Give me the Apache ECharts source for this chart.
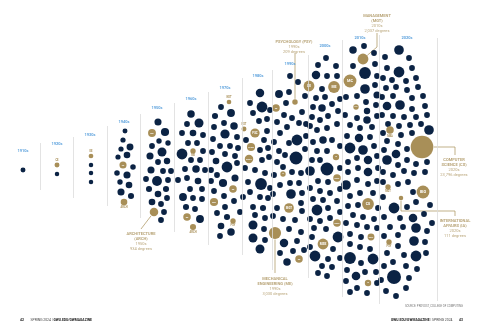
<!DOCTYPE html>
<html><head><meta charset="utf-8">
<script src="https://cdn.jsdelivr.net/npm/echarts/dist/echarts.min.js"></script>
<style>html,body{margin:0;padding:0;background:#fff}#c{width:480px;height:330px}</style>
</head><body><div id="c"></div>
<script>
// ---------- DATA ----------
const decades = ['1910s','1920s','1930s','1940s','1950s','1960s','1970s','1980s','1990s','2000s','2010s','2020s'];

// each bubble: [packX, packY, degrees]
const navy1910s = [[23,170,150]];
const navy1920s = [[57,174,110]];
const navy1930s = [[91,165,110],[91,173,110],[91,182,110]];
const navy1940s = [[125,131,150],[123,140,180],[130,147,450],[121,149,180],[127,155,400],[118,157,180],[133,167,220],[117,173,220],[127,175,500],[120,182,200],[129,185,400],[121,192,500],[131,196,300]];
const navy1950s = [[158,122,500],[165,132,800],[159,141,200],[168,143,200],[152,146,250],[162,152,1100],[150,156,500],[167,161,350],[158,162,250],[151,170,500],[163,171,250],[171,171,250],[146,179,250],[157,181,1500],[168,180,250],[149,189,300],[166,189,300],[158,194,400],[152,202,400],[167,198,250],[161,204,250],[164,212,250],[161,220,250]];
const navy1960s = [[191,114,600],[199,123,1100],[187,124,250],[182,133,250],[193,133,400],[203,135,250],[188,143,250],[197,143,250],[182,154,2000],[203,151,250],[191,160,250],[200,160,250],[185,169,250],[196,169,600],[205,170,250],[178,180,250],[187,178,250],[198,181,400],[190,189,250],[202,189,250],[183,197,700],[193,198,250],[202,199,250],[186,207,300],[195,209,250],[200,219,700]];
const navy1970s = [[221,107,250],[231,113,700],[215,116,300],[224,123,250],[234,126,600],[214,127,250],[225,134,1200],[237,137,250],[213,139,250],[220,146,250],[230,146,250],[238,148,250],[212,152,250],[225,154,250],[235,156,250],[216,161,400],[227,167,2000],[237,163,250],[211,170,250],[217,175,250],[235,178,500],[211,181,250],[223,183,800],[214,191,250],[224,196,250],[225,207,250],[234,201,250],[217,213,250],[227,217,300],[221,226,400],[231,232,600],[220,236,250],[240,212,250]];
const navy1980s = [[260,93,900],[250,103,250],[262,107,2000],[270,110,250],[253,113,250],[267,119,250],[259,121,250],[246,140,250],[267,131,250],[264,140,250],[260,150,250],[268,148,250],[262,160,250],[269,157,250],[255,170,250],[245,168,250],[265,173,250],[261,184,2700],[248,182,250],[270,188,250],[243,197,250],[250,192,250],[260,197,250],[268,198,250],[253,207,250],[263,208,300],[255,215,250],[265,218,250],[253,225,1100],[264,229,250],[253,238,1100],[265,240,250],[260,249,1100]];
const navy1990s = [[290,76,250],[298,82,250],[279,94,700],[289,92,250],[305,96,250],[286,103,250],[302,112,250],[284,115,250],[292,118,250],[277,122,250],[299,123,250],[287,127,250],[306,124,250],[280,133,250],[297,140,2000],[289,143,250],[274,142,250],[306,136,250],[279,151,250],[305,149,250],[285,155,250],[277,162,250],[296,158,3600],[283,167,250],[292,172,250],[274,175,250],[301,173,250],[280,185,250],[290,183,250],[299,183,250],[273,194,250],[291,194,1400],[302,193,250],[277,208,250],[301,203,250],[273,216,250],[283,219,250],[295,220,250],[302,211,250],[289,229,250],[301,232,250],[284,243,900],[297,241,250],[293,251,250],[280,253,250],[287,262,600],[304,250,250]];
const navy2000s = [[326,58,250],[318,65,250],[336,66,250],[316,75,900],[327,76,250],[337,76,250],[322,89,250],[316,98,250],[325,97,250],[340,99,250],[313,107,250],[322,108,600],[332,104,250],[328,116,250],[338,111,250],[312,117,250],[320,120,250],[317,130,250],[327,128,250],[337,124,250],[310,126,250],[323,140,600],[313,142,250],[332,140,250],[340,146,250],[317,151,250],[327,151,250],[312,160,250],[320,160,250],[310,171,1400],[327,169,3600],[340,168,250],[318,181,250],[328,182,250],[310,188,250],[320,191,250],[330,193,250],[340,189,250],[313,199,250],[323,200,250],[337,201,250],[317,210,2000],[328,208,250],[340,212,250],[310,219,250],[320,221,250],[330,218,250],[314,228,250],[326,229,250],[338,237,2000],[312,237,250],[310,247,250],[333,249,250],[315,256,2000],[328,259,250],[340,258,250],[322,266,250],[332,267,250],[318,273,250],[327,276,250]];
const navy2010s = [[364,46,250],[353,50,600],[374,53,250],[375,64,250],[353,66,250],[365,73,2700],[377,76,250],[375,85,250],[365,89,1400],[357,96,250],[377,95,500],[346,97,250],[366,102,250],[376,105,250],[367,111,350],[345,115,250],[357,118,250],[367,120,600],[377,116,250],[350,125,250],[360,128,250],[372,127,250],[347,136,250],[359,138,900],[370,137,250],[350,148,2000],[363,150,1400],[374,146,250],[357,158,250],[368,160,900],[377,156,250],[348,162,250],[358,168,250],[348,172,250],[368,172,950],[378,168,250],[357,180,250],[368,184,250],[377,181,250],[346,185,1400],[350,196,250],[360,193,250],[373,193,250],[348,206,250],[358,205,250],[378,208,250],[353,215,250],[363,217,250],[374,219,250],[346,223,250],[357,225,250],[367,227,250],[377,228,250],[350,234,250],[361,237,250],[350,244,250],[360,247,250],[370,249,250],[350,258,2700],[373,259,2000],[361,263,250],[365,272,250],[347,270,250],[356,276,950],[376,272,250],[346,281,250],[357,288,250],[367,293,250],[377,283,250],[350,292,250]];
const navy2020s = [[399,50,1400],[385,57,250],[409,58,250],[387,68,250],[399,72,2000],[412,68,250],[383,78,250],[392,80,250],[406,81,250],[416,78,250],[386,88,250],[396,87,250],[407,90,250],[418,87,250],[382,97,250],[393,96,250],[412,98,250],[423,96,250],[387,106,950],[400,105,1400],[412,109,250],[425,106,250],[382,115,250],[393,116,250],[404,117,250],[416,117,250],[427,115,250],[388,124,250],[399,126,250],[410,125,250],[421,124,250],[383,133,250],[401,135,250],[412,133,250],[429,130,1400],[387,141,250],[398,144,250],[384,150,250],[396,154,950],[407,149,250],[387,160,1400],[407,160,250],[398,165,250],[416,164,250],[427,162,250],[383,172,250],[393,175,250],[404,171,250],[414,173,250],[425,172,250],[383,182,250],[398,184,250],[408,182,250],[413,192,250],[383,197,250],[416,202,250],[394,208,2000],[407,207,250],[430,205,250],[384,217,250],[400,218,250],[413,218,950],[424,214,250],[432,223,250],[390,227,250],[403,227,250],[416,228,1400],[427,231,250],[384,236,250],[398,235,250],[414,241,1400],[425,242,250],[398,246,250],[387,253,250],[404,255,250],[416,256,2000],[426,253,250],[393,262,250],[384,266,250],[406,266,250],[417,269,250],[394,277,4800],[409,278,250],[381,280,250],[406,288,250],[386,291,250],[396,296,250]];
const navyByDecade = [navy1910s,navy1920s,navy1930s,navy1940s,navy1950s,navy1960s,navy1970s,navy1980s,navy1990s,navy2000s,navy2010s,navy2020s];

// highlighted programs: [decade, code, packX, packY, degrees]
const goldPrograms = [
 ['1920s','CE',57,165,150],['1930s','EE',91,156,130],
 ['1940s','CE',123,165,500],['1940s','ARCH',124,202,400],
 ['1950s','ME',152,133,700],['1950s','ARCH',154,212,934],
 ['1960s','ME',193,151,200],['1960s','RE',187,217,600],['1960s','ARCH',193,227,300],
 ['1970s','NST',229,102,120],['1970s','CE',233,189,600],['1970s','ME',214,202,800],['1970s','PSY',233,221,200],
 ['1980s','PST',244,129,150],['1980s','PSC',255,133,1200],['1980s','CHM',251,147,800],['1980s','MGT',249,159,900],
 ['1990s','PSY',295,102,209],['1990s','CE',276,108,600],['1990s','IA',283,174,200],['1990s','MGT',289,208,1400],['1990s','ME',275,233,3030],['1990s','CE',299,259,600],
 ['2000s','CE',309,86,2000],['2000s','ME',334,87,2700],['2000s','IA',336,157,350],['2000s','MGT',337,178,600],['2000s','MBA',337,223,600],['2000s','MSE',323,244,2000],
 ['2010s','MGT',363,59,2037],['2010s','MC',350,81,3600],['2010s','PSY',356,107,200],['2010s','CS',368,204,2700],['2010s','MGT',371,237,450],['2010s','IA',368,283,350],
 ['2020s','MBA',390,130,600],['2020s','CS',422,147,23796],['2020s','MGT',388,187,200],['2020s','BIO',423,192,3600],['2020s','IA',401,198,111],['2020s','PSY',389,242,200]
];
const goldTagPlacement = ['top','top','inside','bottom','inside','none','bottom','inside','bottom','top','inside','inside','bottom','top','inside','inside','inside','none','inside','inside','inside','none','inside','inside','inside','inside','inside','inside','inside','none','inside','inside','inside','inside','inside','bottom','none','bottom','inside','none','bottom'];

// callouts
const calloutKeys = [['2010s','MGT'],['1990s','PSY'],['2020s','CS'],['2020s','IA'],['1990s','ME'],['1950s','ARCH']];
const calloutTitles = [['MANAGEMENT','(MGT)'],['PSYCHOLOGY (PSY)'],['COMPUTER','SCIENCE (CS)'],['INTERNATIONAL','AFFAIRS (IA)'],['MECHANICAL','ENGINEERING (ME)'],['ARCHITECTURE','(ARCH)']];
const calloutDegrees = ['2,037','209','23,796','111','3,030','934'];

// ---------- LAYOUT ----------
const NAVY = '#0b2344', GOLD = '#a88f58', BLUE = '#3b8fd6', RULE = '#dcdcdc';
const FONT = 'Roboto';
const decadeLabelPos = [[23,151],[57,144],[90,135],[124,122],[157,108],[191,99],[225,88],[258,76],[290,64],[325,46],[360,38],[407,38]];
const ruleX = [40,73,107,140,174,208,242,272,308,342,379,437];
const ruleTop = [143,137,126,114,103,92,78,70,55,40,35,38];
const ruleBottom = [190,198,206,218,232,245,255,270,278,297,304,301];
const calloutAnchor = [[377,13],[294,38.5],[454,156.5],[455,217.5],[275,275.5],[141,230.5]];
const calloutAttach = [[377,33],[295,53],[455,155],[455,216],[275,273],[141,229]];
const calloutElbows = [[[377,47]],[],[[455,147]],[[455,211],[401,211]],[],[]];

const size = d => 1.1 * Math.pow(d, 0.3);

// ---------- BUILD ----------
const navyData = [];
navyByDecade.forEach(arr => arr.forEach(b => navyData.push(b)));

const goldData = goldPrograms.map((g, i) => {
  const tag = goldTagPlacement[i];
  const r = size(g[4]) / 2;
  const item = {name: g[1], value: [g[2], g[3], g[4]]};
  if (tag === 'none') item.label = {show: false};
  else if (tag === 'inside') item.label = {show: true, position: 'inside', color: '#fff', fontFamily: FONT, fontWeight: 'bold', fontSize: Math.max(1.6, r * 0.6), formatter: '{b}'};
  else item.label = {show: true, position: tag, distance: 0.6, color: GOLD, fontFamily: FONT, fontWeight: 'bold', fontSize: 2.6, formatter: '{b}'};
  return item;
});

const leaderPaths = calloutKeys.map((k, i) => {
  const g = goldPrograms.find(p => p[0] === k[0] && p[1] === k[1]);
  const c = [g[2], g[3]], r = size(g[4]) / 2 + 0.4;
  const path = [calloutAttach[i]].concat(calloutElbows[i]);
  const last = path[path.length - 1];
  const dx = last[0] - c[0], dy = last[1] - c[1], L = Math.hypot(dx, dy) || 1;
  path.push([c[0] + dx / L * r, c[1] + dy / L * r]);
  return {coords: path};
});

const calloutData = calloutKeys.map((k, i) => {
  const lines = calloutTitles[i].map(t => '{b|' + t + '}');
  lines.push('{r|' + k[0] + '}');
  lines.push('{r|' + calloutDegrees[i] + ' degrees}');
  return {value: calloutAnchor[i], label: {formatter: lines.join('\n')}};
});

const ruleLines = ruleX.map((x, i) => [{coord: [x, ruleTop[i]]}, {coord: [x, ruleBottom[i]]}]);

const chart = echarts.init(document.getElementById('c'), null, {renderer: 'canvas'});
chart.setOption({
  animation: false,
  backgroundColor: '#fff',
  grid: {left: 0, right: 0, top: 0, bottom: 0},
  xAxis: {type: 'value', min: 0, max: 480, show: false},
  yAxis: {type: 'value', min: 0, max: 330, inverse: true, show: false},
  series: [
    {
      type: 'scatter', name: 'rules', data: [], silent: true,
      markLine: {silent: true, symbol: ['none','none'], label: {show: false}, lineStyle: {color: RULE, width: 0.8, type: 'solid'}, data: ruleLines}
    },
    {
      type: 'scatter', name: 'programs', data: navyData, silent: true,
      symbolSize: v => size(v[2]), itemStyle: {color: NAVY, opacity: 1}
    },
    {
      type: 'scatter', name: 'highlight', data: goldData, silent: true,
      symbolSize: v => size(v[2]), itemStyle: {color: GOLD, opacity: 1}
    },
    {
      type: 'lines', coordinateSystem: 'cartesian2d', polyline: true, silent: true,
      lineStyle: {color: GOLD, width: 0.7, opacity: 1}, data: leaderPaths
    },
    {
      type: 'scatter', name: 'decades', silent: true, symbolSize: 1, itemStyle: {color: 'rgba(0,0,0,0)'},
      data: decades.map((d, i) => ({name: d, value: decadeLabelPos[i]})),
      label: {show: true, position: 'inside', formatter: '{b}', color: BLUE, fontFamily: FONT, fontWeight: 'bold', fontSize: 4}
    },
    {
      type: 'scatter', name: 'callouts', silent: true, symbolSize: 1, itemStyle: {color: 'rgba(0,0,0,0)'},
      data: calloutData,
      label: {show: true, position: 'bottom', distance: 0, align: 'center',
        rich: {b: {fontFamily: FONT, fontWeight: 'bold', fontSize: 4, lineHeight: 5, color: GOLD},
               r: {fontFamily: FONT, fontSize: 4, lineHeight: 5, color: GOLD}}}
    }
  ],
  graphic: [
    {type: 'text', left: 20, top: 314, style: {text: '{n|42}  {t|SPRING 2024 | }{n|GWU.EDU/GWMAGAZINE}', rich: {n: {font: 'bold 3.4px Roboto', fill: '#222'}, t: {font: '3.4px Roboto', fill: '#444'}}}},
    {type: 'text', right: 17, top: 314, style: {text: '{n|GWU.EDU/GWMAGAZINE}{t| | SPRING 2024}  {n|43}', rich: {n: {font: 'bold 3.4px Roboto', fill: '#222'}, t: {font: '3.4px Roboto', fill: '#444'}}}},
    {type: 'text', right: 17, top: 305, style: {text: 'SOURCE: PROVOST, COLLEGE OF COMPUTING', font: '2.8px Roboto', fill: '#777'}}
  ]
});
</script>
</body></html>
